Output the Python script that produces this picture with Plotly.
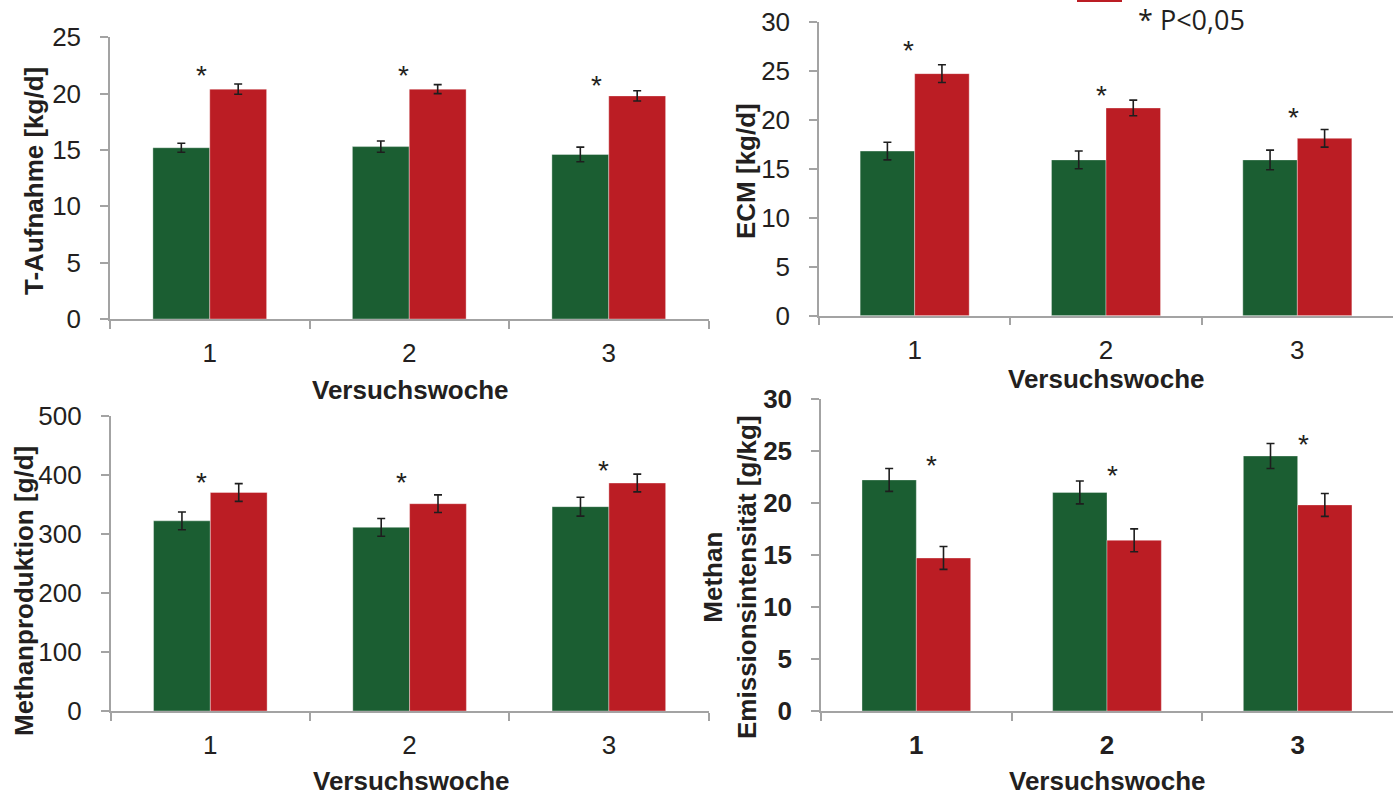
import plotly.graph_objects as go

W, H = 1396, 796

weeks = ["1", "2", "3"]

# T-Aufnahme [kg/d]
ta_a = [15.2, 15.3, 14.6]
ta_a_err = [0.4, 0.5, 0.65]
ta_b = [20.4, 20.4, 19.8]
ta_b_err = [0.45, 0.4, 0.45]
ta_sig = [21.9, 21.9, 21.0]

# ECM [kg/d]
ecm_a = [16.8, 15.9, 15.9]
ecm_a_err = [0.9, 0.9, 1.0]
ecm_b = [24.7, 21.2, 18.1]
ecm_b_err = [0.9, 0.8, 0.9]
ecm_sig = [27.4, 22.8, 20.5]

# Methanproduktion [g/d]
mp_a = [322, 311, 346]
mp_a_err = [15, 15, 16]
mp_b = [370, 351, 386]
mp_b_err = [15, 15, 15]
mp_sig = [392, 392, 413]

# Methan-Emissionsintensität [g/kg]
ei_a = [22.2, 21.0, 24.5]
ei_a_err = [1.1, 1.1, 1.2]
ei_b = [14.7, 16.4, 19.8]
ei_b_err = [1.1, 1.1, 1.1]
ei_sig = [23.9, 22.9, 25.9]

GREEN = "#1b5e32"
RED = "#bb1d24"
INK = "#231f20"
AXIS = "#a3a3a3"
FONT = "Liberation Sans, Arial, sans-serif"


def px(x):
    return x / W


def py(y):
    return 1 - y / H


panels = [
    dict(a=ta_a, ae=ta_a_err, b=ta_b, be=ta_b_err, sig=ta_sig, sigdx=[-0.04, -0.03, -0.06],
         xd=[110, 708.5], yd=[319, 37.3], yr=[0, 25], dt=5, bold=False),
    dict(a=ecm_a, ae=ecm_a_err, b=ecm_b, be=ecm_b_err, sig=ecm_sig, sigdx=[-0.03, -0.025, -0.022],
         xd=[819, 1393], yd=[315.7, 21.7], yr=[0, 30], dt=5, bold=False),
    dict(a=mp_a, ae=mp_a_err, b=mp_b, be=mp_b_err, sig=mp_sig, sigdx=[-0.045, -0.04, -0.025],
         xd=[110.7, 708.5], yd=[711, 415.7], yr=[0, 500], dt=100, bold=False),
    dict(a=ei_a, ae=ei_a_err, b=ei_b, be=ei_b_err, sig=ei_sig, sigdx=[0.08, 0.03, 0.03],
         xd=[821, 1393], yd=[711, 398.7], yr=[0, 30], dt=5, bold=True),
]

fig = go.Figure()
layout = {}
annotations = []

for i, p in enumerate(panels, start=1):
    xa = "x" if i == 1 else f"x{i}"
    ya = "y" if i == 1 else f"y{i}"
    for vals, errs, col in ((p["a"], p["ae"], GREEN), (p["b"], p["be"], RED)):
        fig.add_trace(go.Bar(
            x=weeks, y=vals, xaxis=xa, yaxis=ya,
            marker=dict(color=col, line=dict(color="rgba(255,255,255,0.45)", width=0.8)),
            error_y=dict(type="data", array=errs, color="#1e1e1e", thickness=1.6, width=4),
            showlegend=False,
        ))
    tickfont = dict(family=FONT, size=26, color=INK, weight="bold" if p["bold"] else "normal")
    layout[f"xaxis{'' if i == 1 else i}"] = dict(
        domain=[px(p["xd"][0]), px(p["xd"][1])], anchor=ya, type="category",
        showline=True, linecolor=AXIS, linewidth=1.5,
        ticks="outside", tickson="boundaries", ticklen=8, tickcolor=AXIS, tickwidth=1.5,
        tickfont=tickfont, ticklabelstandoff=10, showgrid=False, zeroline=False,
        automargin=False, fixedrange=True,
    )
    layout[f"yaxis{'' if i == 1 else i}"] = dict(
        domain=[py(p["yd"][0]), py(p["yd"][1])], anchor=xa, range=p["yr"], dtick=p["dt"],
        showline=True, linecolor=AXIS, linewidth=1.5,
        ticks="outside", ticklen=8, tickcolor=AXIS, tickwidth=1.5,
        tickfont=tickfont, ticklabelstandoff=14, showgrid=False, zeroline=False,
        automargin=False, fixedrange=True,
    )
    # significance markers
    for k, (yv, dx) in enumerate(zip(p["sig"], p["sigdx"])):
        annotations.append(dict(
            x=k + dx, y=yv, xref=xa, yref=ya, text="*", showarrow=False,
            font=dict(family=FONT, size=28, color=INK), xanchor="center", yanchor="middle", yshift=-3,
        ))

title_font = dict(family=FONT, size=26, color=INK, weight="bold")

# x-axis titles
for cx, cy in ((410, 390), (1106, 379), (411, 781), (1107, 781)):
    annotations.append(dict(x=px(cx), y=py(cy), xref="paper", yref="paper", text="Versuchswoche",
                            showarrow=False, font=title_font, xanchor="center", yanchor="middle"))

# y-axis titles
for txt, cx, cy in (("T-Aufnahme [kg/d]", 34, 181),
                    ("ECM [kg/d]", 746, 171),
                    ("Methanproduktion [g/d]", 24, 591),
                    ("Methan<br>Emissionsintensität [g/kg]", 730, 577)):
    annotations.append(dict(x=px(cx), y=py(cy), xref="paper", yref="paper", text=txt, textangle=-90,
                            showarrow=False, font=title_font, xanchor="center", yanchor="middle"))

# legend note
annotations.append(dict(x=px(1191), y=py(19.5), xref="paper", yref="paper", text="* P<0,05",
                        showarrow=False, font=dict(family="Open Sans, sans-serif", size=27, color=INK),
                        xanchor="center", yanchor="middle"))

shapes = [dict(type="rect", xref="paper", yref="paper", x0=px(1077), x1=px(1122), y0=py(2), y1=py(-4),
               fillcolor=RED, line=dict(width=0))]

fig.update_layout(
    template="none",
    width=W, height=H, margin=dict(l=0, r=0, t=0, b=0, pad=0, autoexpand=False),
    paper_bgcolor="white", plot_bgcolor="white",
    barmode="group", bargap=0.43, bargroupgap=0,
    annotations=annotations, shapes=shapes,
    **layout,
)

fig.write_html("out.html", include_plotlyjs=True, config={"displayModeBar": False})
